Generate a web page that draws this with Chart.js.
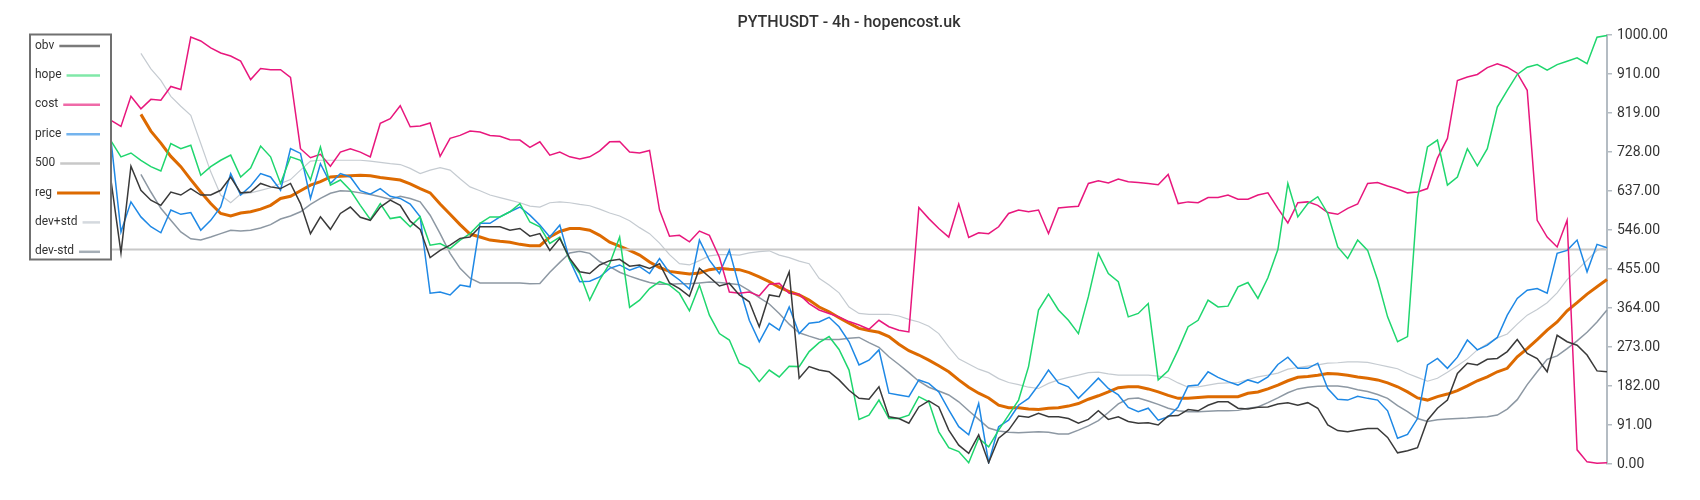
<!DOCTYPE html>
<html>
<head>
<meta charset="utf-8">
<script src="https://cdn.jsdelivr.net/npm/chart.js@4.4.1/dist/chart.umd.min.js"></script>
<style>
html,body{margin:0;padding:0;background:#ffffff;}
#wrap{width:1700px;height:500px;position:relative;}
canvas{display:block;}
</style>
</head>
<body>
<div id="wrap"><canvas id="c" width="1700" height="500"></canvas></div>
<script>
const chartTitle = 'PYTHUSDT - 4h - hopencost.uk';
const seriesNames = ['obv', 'hope', 'cost', 'price', '500', 'reg', 'dev+std', 'dev-std'];
const yTickStep = 91;
const yMin = 0;
const yMax = 1000;
const levelValue = 500;

const obv = [
661,492,694,638,615,603,634,627,642,627,
627,638,669,632,634,654,646,642,654,607,
537,576,547,584,599,575,568,599,615,603,
566,547,481,498,510,526,529,553,553,553,
545,549,531,537,498,526,479,448,444,464,
474,477,461,464,456,467,422,409,391,456,
436,415,421,394,378,320,394,390,448,200,
227,219,215,196,172,153,151,180,110,106,
95,133,147,133,79,44,25,68,3,60,
79,112,109,118,110,110,106,95,104,124,
104,110,99,95,96,91,112,113,127,124,
137,145,145,130,128,132,133,140,143,137,
143,130,91,78,75,79,83,83,62,26,
31,38,102,130,149,211,235,231,244,246,
262,290,258,246,215,300,285,277,254,217,215
];

const hope = [
753,716,725,708,693,683,747,735,743,673,
693,708,720,669,690,741,716,654,716,708,
662,739,650,662,638,603,570,607,572,576,
553,576,510,514,502,522,537,561,576,576,
588,607,564,553,514,529,475,444,382,429,
467,529,365,382,409,425,417,398,357,417,
347,304,289,235,223,192,219,203,228,227,
262,283,297,267,219,104,114,149,106,106,
114,157,145,75,38,29,3,60,40,79,
114,149,227,359,396,359,335,304,390,491,
444,425,343,351,374,196,217,266,320,335,
382,366,368,413,423,386,434,500,654,576,
607,623,584,506,479,522,498,429,343,285,
297,620,739,755,650,669,735,695,735,832,
871,908,925,931,918,931,939,947,933,995,999
];

const cost = [
801,787,857,828,850,848,880,873,995,986,
970,958,951,939,896,922,919,919,901,735,
714,722,694,727,735,727,716,794,805,835,
786,788,795,717,759,766,776,774,766,764,
756,755,738,751,720,727,716,711,716,730,
751,752,727,725,731,592,531,533,518,543,
533,482,401,398,401,392,419,421,398,396,
374,359,351,343,332,324,314,335,320,312,
308,598,572,549,529,606,528,539,537,553,
584,592,588,592,537,597,599,601,654,660,
655,664,658,656,654,651,675,607,611,609,
621,621,627,617,617,627,632,596,562,609,
611,603,586,582,596,606,654,656,648,641,
632,634,642,713,759,894,902,908,924,933,
925,911,871,568,529,506,568,33,5,2,3
];

const price = [
755,541,611,576,553,539,592,582,586,545,
568,599,677,627,648,677,669,638,735,724,
619,700,654,677,669,637,629,642,624,619,
606,576,398,401,394,417,413,561,561,576,
588,599,580,557,529,557,475,425,426,436,
456,464,452,460,444,479,446,429,408,522,
475,444,498,413,335,285,328,312,366,304,
328,331,342,320,285,231,242,266,165,161,
157,196,188,168,126,87,68,141,3,87,
102,137,153,184,219,189,180,153,176,200,
176,161,132,122,130,102,110,133,182,184,
215,202,192,184,196,189,203,232,249,223,
223,235,176,151,149,158,153,149,124,60,
69,106,231,246,223,249,289,266,277,295,
347,386,405,409,398,491,498,522,448,512,504
];

const reg = [
null,null,null,815,776,748,717,693,663,634,
607,584,578,585,588,594,603,619,624,637,
650,658,669,671,672,673,672,668,665,662,
653,642,632,606,582,558,536,529,522,519,
517,512,509,509,529,542,549,549,545,533,
517,508,498,487,471,458,449,446,443,445,
453,456,454,453,446,436,425,412,402,394,
382,366,355,341,328,316,311,307,297,279,
264,254,242,229,215,196,179,165,154,137,
131,131,128,127,130,131,135,141,151,159,
168,178,180,180,175,168,160,153,153,155,
157,157,157,157,165,168,175,184,194,202,
204,207,211,210,207,203,200,196,189,180,
168,154,149,157,163,171,182,194,203,215,
223,250,269,290,312,331,357,376,396,413,430
];

const devPlus = [
null,null,null,957,921,894,857,834,813,747,
681,627,609,629,632,638,644,654,663,685,
706,708,708,708,708,708,706,703,700,698,
689,677,685,691,685,665,646,637,627,621,
615,609,601,599,609,611,609,605,602,594,
585,578,567,551,537,515,488,467,464,474,
485,488,488,487,492,495,497,487,481,473,
467,433,417,399,366,351,349,349,349,345,
337,331,321,304,273,245,233,221,213,199,
190,185,179,176,188,196,202,207,213,214,
210,207,207,207,207,205,201,189,179,180,
184,188,189,190,197,203,207,212,221,225,
228,231,235,236,238,238,237,232,227,222,
211,202,193,200,214,229,245,266,280,294,
303,326,347,360,376,399,430,452,475,498,506
];

const devMinus = [
null,null,null,675,634,596,568,541,525,522,
529,537,545,543,545,550,558,571,578,588,
605,619,631,637,636,632,628,623,617,624,
619,611,580,537,491,456,433,422,422,422,
422,422,420,421,447,470,492,496,491,472,
460,447,438,430,423,419,419,420,420,422,
424,423,421,418,404,388,373,351,326,306,
298,291,290,290,293,295,283,272,250,232,
213,193,179,170,161,145,124,104,84,77,
74,73,74,75,74,70,70,79,89,101,
120,140,152,154,147,139,130,124,122,122,
123,124,124,125,130,133,143,154,166,175,
179,181,182,182,179,173,169,162,153,136,
122,106,99,103,105,106,107,109,110,114,
128,150,185,215,244,252,269,287,307,331,359
];

const labels = obv.map((_, i) => i);
const level500 = labels.map(() => levelValue);

const seriesColors = ['#3a3a3a', '#1fd66e', '#e8177d', '#1e88e5', '#c8c8c8', '#dd6a00', '#c5cbd1', '#8d98a3'];
const legendColors = ['#7a7a7a', '#80e8a8', '#ef6aa8', '#74b4ee', '#c8c8c8', '#dd6a00', '#d4d9de', '#a5aeb6'];
const seriesWidths = [1.5, 1.5, 1.5, 1.5, 2, 3, 1.2, 1.5];
const seriesData = [obv, hope, cost, price, level500, reg, devPlus, devMinus];

const datasets = seriesNames.map((name, k) => ({
  label: name,
  data: seriesData[k],
  borderColor: seriesColors[k],
  backgroundColor: seriesColors[k],
  borderWidth: seriesWidths[k],
  pointRadius: 0,
  tension: 0,
  fill: false,
  spanGaps: false
}));

const titlePlugin = {
  id: 'titlePlugin',
  afterDraw(chart) {
    const ctx = chart.ctx;
    ctx.save();
    ctx.font = '500 16px Roboto';
    ctx.fillStyle = '#333333';
    ctx.textAlign = 'center';
    ctx.textBaseline = 'alphabetic';
    ctx.fillText(chartTitle, 849, 26.5);
    ctx.restore();
  }
};

const legendPlugin = {
  id: 'boxLegend',
  afterDraw(chart) {
    const ctx = chart.ctx;
    ctx.save();
    const bx = 30, by = 34.5, bw = 81, bh = 225;
    ctx.fillStyle = '#ffffff';
    ctx.fillRect(bx, by, bw, bh);
    ctx.strokeStyle = '#707070';
    ctx.lineWidth = 2;
    ctx.strokeRect(bx, by, bw, bh);
    ctx.font = '12px Roboto';
    ctx.textBaseline = 'middle';
    ctx.textAlign = 'left';
    seriesNames.forEach((name, k) => {
      const y = 45.5 + k * 29.4;
      ctx.fillStyle = '#333333';
      ctx.fillText(name, 35, y);
      const tw = ctx.measureText(name).width;
      ctx.beginPath();
      ctx.moveTo(35 + tw + 5, y + 0.5);
      ctx.lineTo(100, y + 0.5);
      ctx.strokeStyle = legendColors[k];
      ctx.lineWidth = k === 5 ? 3 : 2.5;
      ctx.stroke();
    });
    ctx.restore();
  }
};

new Chart(document.getElementById('c').getContext('2d'), {
  type: 'line',
  data: { labels: labels, datasets: datasets },
  options: {
    responsive: false,
    animation: false,
    devicePixelRatio: 1,
    layout: { padding: { left: 111, top: 35, bottom: 36, right: 0 } },
    plugins: {
      legend: { display: false },
      title: { display: false },
      tooltip: { enabled: false }
    },
    elements: { point: { radius: 0 }, line: { tension: 0 } },
    scales: {
      x: { display: false },
      y: {
        position: 'right',
        min: yMin,
        max: yMax,
        ticks: {
          stepSize: yTickStep,
          autoSkip: false,
          padding: 5,
          color: '#333333',
          font: { family: 'Roboto', size: 14 },
          callback: (v) => Math.ceil(Number(v) - 1e-9).toFixed(2)
        },
        grid: { drawOnChartArea: false, tickLength: 5, color: '#b4bcc3', lineWidth: 1.5 },
        border: { display: true, color: '#b4bcc3', width: 2 },
        afterFit: (s) => { s.width = 93; }
      }
    }
  },
  plugins: [titlePlugin, legendPlugin]
});
</script>
</body>
</html>
